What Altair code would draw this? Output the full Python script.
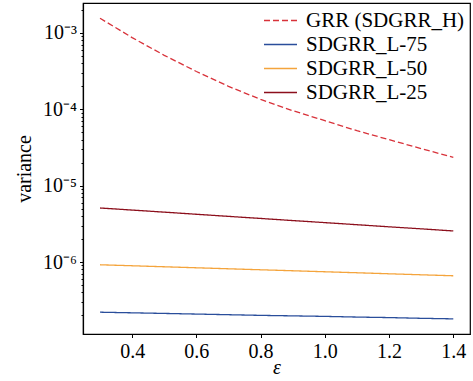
import altair as alt
import pandas as pd

# epsilon grid shared by all series
eps = [0.3, 0.4, 0.5, 0.6, 0.7, 0.8, 0.9, 1.0, 1.1, 1.2, 1.3, 1.4]

series_names = ["GRR (SDGRR_H)", "SDGRR_L-75", "SDGRR_L-50", "SDGRR_L-25"]

grr_h = [1.56e-3, 8.7e-4, 5.1e-4, 3.13e-4, 2.0e-4, 1.35e-4,
         9.6e-5, 7.1e-5, 5.25e-5, 4.0e-5, 3.06e-5, 2.35e-5]
l75 = [2.20e-7, 2.16e-7, 2.12e-7, 2.08e-7, 2.04e-7, 2.00e-7,
       1.97e-7, 1.94e-7, 1.90e-7, 1.87e-7, 1.83e-7, 1.80e-7]
l50 = [9.20e-7, 8.93e-7, 8.66e-7, 8.40e-7, 8.15e-7, 7.91e-7,
       7.68e-7, 7.45e-7, 7.23e-7, 7.01e-7, 6.80e-7, 6.60e-7]
l25 = [5.10e-6, 4.79e-6, 4.50e-6, 4.22e-6, 3.96e-6, 3.72e-6,
       3.49e-6, 3.28e-6, 3.08e-6, 2.89e-6, 2.72e-6, 2.55e-6]

colors = ["#d8323a", "#2a4e9b", "#f4a43c", "#8c0f1c"]
dashes = [[6, 3], [1, 0], [1, 0], [1, 0]]

x_ticks = [0.4, 0.6, 0.8, 1.0, 1.2, 1.4]
y_major = [1e-6, 1e-5, 1e-4, 1e-3]
y_minor = [m * 10.0 ** k for k in range(-7, -2) for m in range(2, 10)]
y_domain = [1.14e-7, 2.47e-3]
x_domain = [0.247, 1.452]

rows = []
for name, vals in zip(series_names, [grr_h, l75, l50, l25]):
    for e, v in zip(eps, vals):
        rows.append({"eps": e, "variance": v, "series": name})
df = pd.DataFrame(rows)

FONT = "Times New Roman"
FS = 20

y_scale = alt.Scale(type="log", domain=y_domain, nice=False)

# wide, flat custom symbol so the legend rows stay tight
legend = alt.Legend(
    orient="none", legendX=187, legendY=7, title=None,
    labelFont=FONT, labelFontSize=21, labelColor="black",
    symbolType="M-3,0H3", symbolSize=121, symbolStrokeWidth=1.5,
    symbolFillColor="transparent", rowPadding=2, labelOffset=15, padding=0,
)

lines = alt.Chart(df).mark_line(strokeWidth=1.3).encode(
    x=alt.X("eps:Q", scale=alt.Scale(domain=x_domain, nice=False, zero=False),
            axis=alt.Axis(values=x_ticks, format=".1f", title="ε",
                          labelFont=FONT, titleFont=FONT, labelFontSize=FS, titleFontSize=FS,
                          titleFontStyle="italic", titleFontWeight="normal",
                          grid=False, tickSize=3.5, labelPadding=4, titlePadding=-4)),
    y=alt.Y("variance:Q", scale=y_scale,
            axis=alt.Axis(values=y_major, orient="left", title="variance",
                          labelFont=FONT, titleFont=FONT, labelFontSize=FS, titleFontSize=FS,
                          titleFontWeight="normal", grid=False, tickSize=3.5,
                          labelPadding=3, titlePadding=8,
                          labelExpr="datum.value < 5e-6 ? '10⁻⁶' : datum.value < 5e-5 ? '10⁻⁵' : datum.value < 5e-4 ? '10⁻⁴' : '10⁻³'")),
    color=alt.Color("series:N", scale=alt.Scale(domain=series_names, range=colors),
                    sort=series_names, legend=legend),
    strokeDash=alt.StrokeDash("series:N", scale=alt.Scale(domain=series_names, range=dashes),
                              sort=series_names, legend=legend),
    detail="series:N",
    order="eps:Q",
)

# minor ticks of the log axis, drawn through an unlabeled second axis
minor = alt.Chart(df).mark_point(opacity=0).encode(
    x=alt.value(0),
    y=alt.Y("variance:Q", scale=y_scale,
            axis=alt.Axis(values=y_minor, orient="left", labels=False, title=None,
                          domain=False, grid=False, tickSize=2)),
)

chart = alt.layer(lines, minor).resolve_axis(y="independent").properties(
    width=387, height=331,
    autosize=alt.AutoSizeParams(type="none"),
    padding={"left": 83, "top": 3, "right": 3, "bottom": 47},
).configure_view(stroke="black", strokeWidth=1.2).configure_axis(
    labelFont=FONT, titleFont=FONT,
    labelColor="black", titleColor="black", domainColor="black", tickColor="black",
    domainWidth=1.2, tickWidth=1,
).configure_legend(labelFont=FONT)

chart.save("out.html", embed_options={"renderer": "svg", "actions": False})
